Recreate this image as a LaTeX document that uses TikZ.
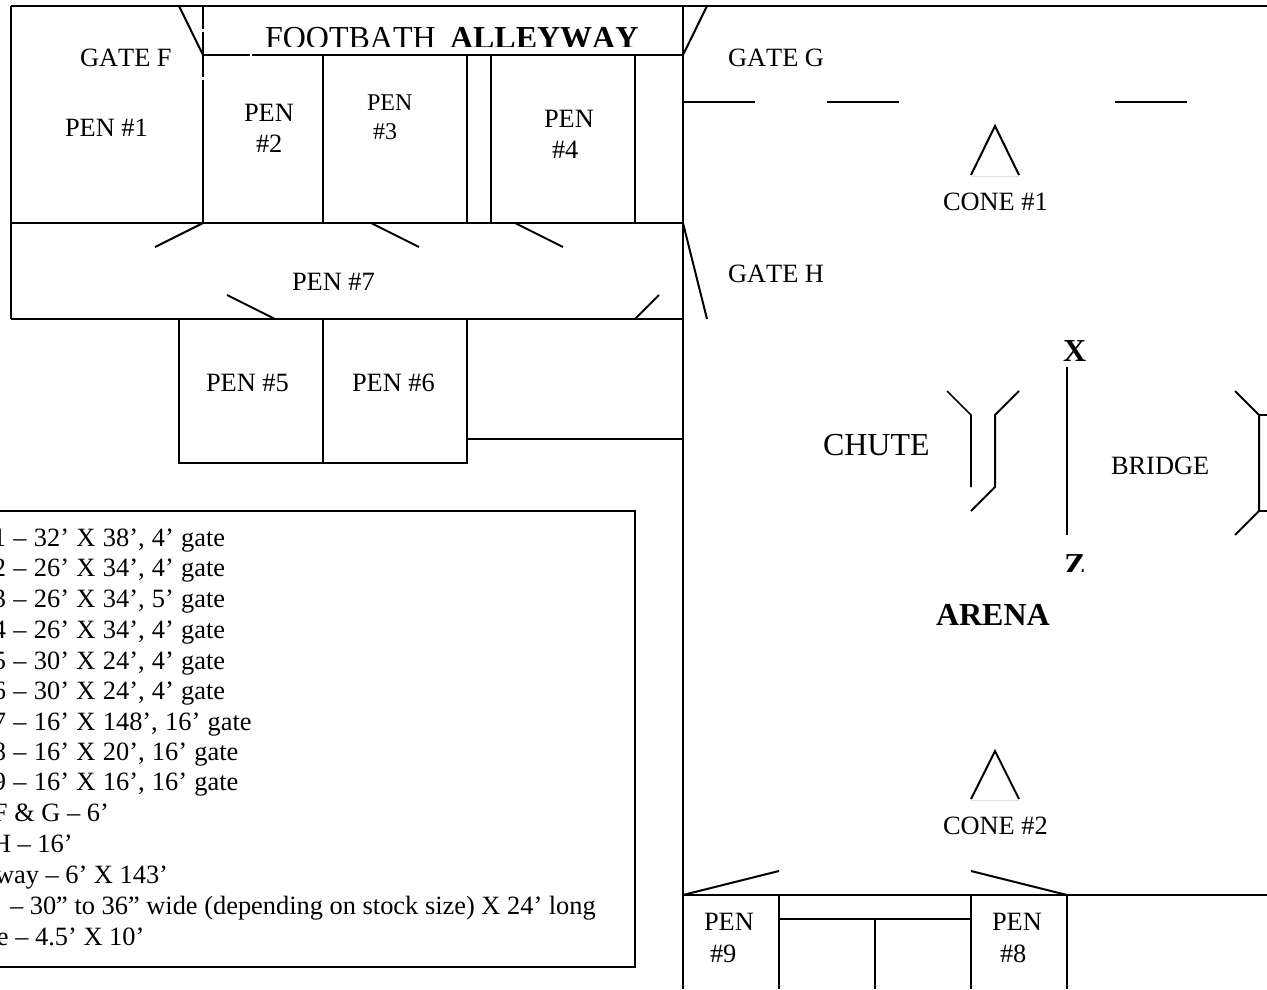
\documentclass[tikz,border=0pt]{standalone}
\usepackage{fontspec}
\setmainfont[Kerning=Off]{Liberation Serif}
\newcommand{\legline}[1]{\setlength{\spaceskip}{7.3pt}#1}
\tikzset{
  wall/.style={line width=2pt},
  thin wall/.style={line width=1.6pt},
  lbl/.style={anchor=base west,inner sep=0pt,outer sep=0pt,font=\fontsize{26.4}{30}\selectfont},
  smalllbl/.style={lbl,font=\fontsize{24}{28}\selectfont},
  biglbl/.style={lbl,font=\fontsize{32}{36}\selectfont},
  boldlbl/.style={lbl,font=\fontsize{32}{36}\selectfont\bfseries},
  conebase/.style={line width=1pt,draw=black!12}
}
\begin{document}
\begin{tikzpicture}[x=1pt,y=-1pt]
\useasboundingbox (0,0) rectangle (1267,989);
\fill[white] (0,0) rectangle (1267,989);
% outer walls
\draw[wall] (11,6) -- (1267,6);
\draw[wall] (11,6) -- (11,319);
\draw[wall] (683,6) -- (683,989);
% alleyway and pens
\draw[wall] (203,6) -- (203,29) (203,31.5) -- (203,77) (203,79.5) -- (203,223);
\draw[wall] (203,55) -- (250,55) (252,55) -- (683,55);
\draw[wall] (323,55) -- (323,223) (467,55) -- (467,223) (491,55) -- (491,223) (635,55) -- (635,223);
\draw[wall] (11,223) -- (683,223);
\draw[wall] (11,319) -- (683,319);
\draw[wall] (179,319) -- (179,463) -- (467,463) -- (467,319);
\draw[wall] (323,319) -- (323,463);
\draw[wall] (467,439) -- (683,439);
% gates
\draw[wall] (179,6) -- (203,55);
\draw[wall] (707,6) -- (683,55);
\draw[wall] (683,223) -- (707,319);
\draw[wall] (203,223) -- (155,247);
\draw[wall] (371,223) -- (419,247);
\draw[wall] (515,223) -- (563,247);
\draw[wall] (227,295) -- (275,319);
\draw[wall] (635,319) -- (659,295);
% top arena ticks
\draw[wall] (683,102) -- (755,102) (827,102) -- (899,102) (1115,102) -- (1187,102);
% cones
\draw[conebase] (971,176) -- (1019,176);
\draw[wall] (971,175) -- (995,126) -- (1019,175);
\draw[conebase] (971,800) -- (1019,800);
\draw[wall] (971,799) -- (995,751) -- (1019,799);
% chute
\draw[thin wall] (947,391) -- (971,415) -- (971,487);
\draw[wall] (1019,391) -- (995,415) -- (995,487) -- (971,511);
% xz line
\draw[wall] (1067,367) -- (1067,535);
% bridge
\draw[wall] (1235,391) -- (1259,415) -- (1259,511) -- (1235,535);
\draw[wall] (1259,415) -- (1267,415) (1259,511) -- (1267,511);
% bottom
\draw[wall] (683,895) -- (1267,895);
\draw[wall] (779,895) -- (779,989) (971,895) -- (971,989) (1067,895) -- (1067,989) (875,919) -- (875,989);
\draw[wall] (779,919) -- (971,919);
\draw[wall] (683,895) -- (779,871);
\draw[wall] (971,871) -- (1067,895);
% legend box
\draw[wall] (-5,511) -- (635,511) -- (635,967) -- (-5,967);
% labels
\begin{scope}
\clip (205,0) rectangle (680,46.5);
\node[biglbl] (foot) at (265,48) {FOOTBATH};
\node[boldlbl] (alley) at (450,48) {ALLEYWAY};
\end{scope}
\node[lbl] (gf) at (80,66) {GATE F};
\node[lbl] (p1) at (65,136) {PEN \#1};
\node[lbl] (p2a) at (244,121) {PEN};
\node[lbl] (p2b) at (256,152) {\#2};
\node[smalllbl] (p3a) at (367,110) {PEN};
\node[smalllbl] (p3b) at (373,139) {\#3};
\node[lbl] (p4a) at (544,127) {PEN};
\node[lbl] (p4b) at (552,158) {\#4};
\node[lbl] (p7) at (292,290) {PEN \#7};
\node[lbl] (p5) at (206,391) {PEN \#5};
\node[lbl] (p6) at (352,391) {PEN \#6};
\node[lbl] (gg) at (728,66) {GATE G};
\node[lbl] (gh) at (728,282) {GATE H};
\node[lbl] (c1) at (943,210) {CONE \#1};
\node[lbl] (c2) at (943,834) {CONE \#2};
\node[biglbl] (ch) at (823,455) {CHUTE};
\node[lbl] (br) at (1111,474) {BRIDGE};
\node[boldlbl] (x) at (1063,361) {X};
\begin{scope}
\clip (1050,540) rectangle (1100,571.5);
\node[boldlbl] (z) at (1064,575) {Z};
\end{scope}
\node[boldlbl] (ar) at (936,625) {ARENA};
\node[lbl] (p9a) at (704,930) {PEN};
\node[lbl] (p9b) at (710,962) {\#9};
\node[lbl] (p8a) at (992,930) {PEN};
\node[lbl] (p8b) at (1000,962) {\#8};
% legend
\node[lbl] (l1) at (-7,546) {\legline{1 – 32’ X 38’, 4’ gate}};
\node[lbl] (l2) at (-7,576) {\legline{2 – 26’ X 34’, 4’ gate}};
\node[lbl] (l3) at (-7,607) {\legline{3 – 26’ X 34’, 5’ gate}};
\node[lbl] (l4) at (-7,638) {\legline{4 – 26’ X 34’, 4’ gate}};
\node[lbl] (l5) at (-7,669) {\legline{5 – 30’ X 24’, 4’ gate}};
\node[lbl] (l6) at (-7,699) {\legline{6 – 30’ X 24’, 4’ gate}};
\node[lbl] (l7) at (-7,730) {\legline{7 – 16’ X 148’, 16’ gate}};
\node[lbl] (l8) at (-7,760) {\legline{8 – 16’ X 20’, 16’ gate}};
\node[lbl] (l9) at (-7,790) {\legline{9 – 16’ X 16’, 16’ gate}};
\node[lbl] (l10) at (-7,821) {F \& G – 6’};
\node[lbl] (l11) at (-8,852) {H – 16’};
\node[lbl] (l12) at (-5,883) {way – 6’ X 143’};
\node[lbl] (l13) at (10,914) {– 30” to 36” wide (depending on stock size) X 24’ long};
\node[lbl] (l14) at (-3,945) {e – 4.5’ X 10’};
\end{tikzpicture}
\end{document}
